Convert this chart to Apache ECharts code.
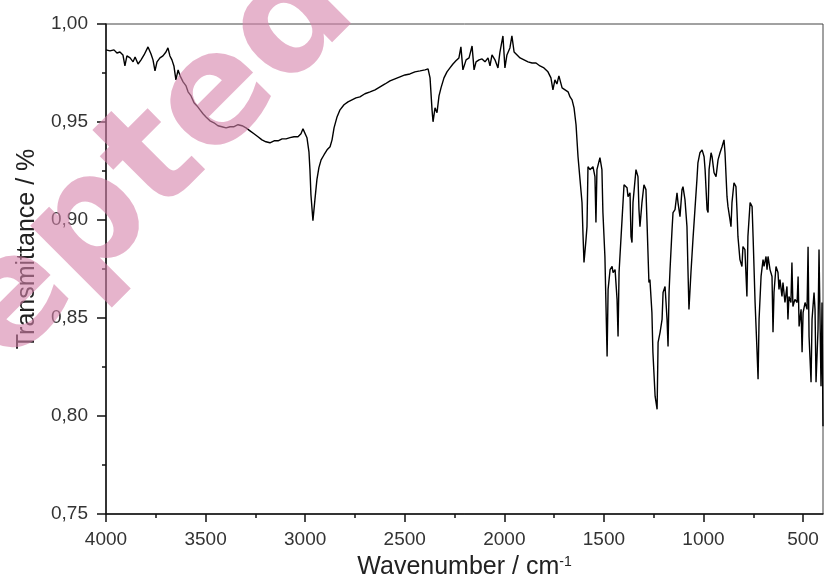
<!DOCTYPE html>
<html>
<head>
<meta charset="utf-8">
<script src="https://cdn.jsdelivr.net/npm/echarts@6/dist/echarts.min.js"></script>
<style>
html,body{margin:0;padding:0;background:#fff;}
#chart{width:824px;height:585px;}
</style>
</head>
<body>
<div id="chart"></div>
<script>
// Wavenumber (cm^-1)
var wavenumber = [4000,3980,3960,3945,3930,3915,3905,3895,3879,3864,3854,3839,3824,3809,3789,3774,3764,3754,3744,3729,3714,3699,3689,3679,3669,3659,3649,3638,3628,3613,3598,3588,3573,3558,3543,3528,3513,3498,3478,3458,3438,3418,3397,3377,3357,3337,3317,3297,3277,3257,3237,3217,3197,3177,3156,3136,3116,3096,3076,3056,3036,3021,3011,3001,2991,2981,2976,2971,2961,2951,2941,2931,2920,2905,2890,2875,2865,2855,2840,2825,2805,2785,2765,2745,2725,2700,2674,2649,2624,2599,2574,2549,2524,2499,2474,2449,2423,2398,2383,2373,2363,2358,2348,2338,2328,2318,2303,2288,2273,2258,2243,2228,2218,2208,2192,2177,2162,2152,2142,2127,2112,2097,2082,2072,2062,2047,2032,2022,2007,1997,1987,1972,1962,1951,1936,1921,1901,1881,1861,1841,1821,1801,1781,1766,1756,1746,1736,1726,1710,1695,1680,1670,1660,1650,1640,1630,1620,1610,1605,1600,1590,1585,1580,1570,1555,1545,1540,1535,1520,1510,1505,1495,1484,1479,1469,1459,1454,1444,1434,1429,1424,1409,1399,1384,1379,1369,1364,1359,1354,1339,1329,1324,1319,1309,1299,1289,1284,1274,1269,1259,1254,1243,1233,1228,1218,1208,1203,1193,1183,1178,1173,1168,1158,1153,1143,1133,1128,1118,1108,1103,1093,1083,1078,1073,1063,1053,1043,1033,1028,1018,1007,997,992,982,977,972,962,957,947,937,927,917,907,897,892,882,877,867,862,857,847,837,832,827,817,807,802,792,782,777,766,756,751,741,731,726,721,711,701,696,686,681,676,666,656,651,646,636,626,621,616,606,601,591,581,576,571,561,556,551,541,530,525,520,510,505,500,490,480,475,470,460,455,445,440,435,425,420,410,405,400];
// Transmittance
var transmittance = [0.9868,0.9863,0.9868,0.9852,0.9857,0.9842,0.9786,0.9837,0.9827,0.9807,0.9832,0.9796,0.9817,0.9842,0.9883,0.9847,0.9817,0.9761,0.9807,0.9827,0.9837,0.9857,0.9878,0.9837,0.9817,0.9786,0.9715,0.9766,0.9735,0.9705,0.9684,0.9654,0.9633,0.9598,0.9582,0.9562,0.9542,0.9526,0.9506,0.9496,0.9481,0.9476,0.9470,0.9476,0.9476,0.9486,0.9481,0.9470,0.9455,0.9440,0.9425,0.9409,0.9399,0.9394,0.9404,0.9404,0.9414,0.9414,0.9420,0.9425,0.9425,0.9440,0.9465,0.9455,0.9420,0.9348,0.9257,0.9129,0.8997,0.9104,0.9206,0.9267,0.9307,0.9333,0.9358,0.9374,0.9409,0.9470,0.9526,0.9562,0.9588,0.9603,0.9613,0.9623,0.9628,0.9644,0.9654,0.9664,0.9679,0.9694,0.9710,0.9720,0.9730,0.9740,0.9745,0.9756,0.9761,0.9766,0.9771,0.9725,0.9562,0.9501,0.9572,0.9547,0.9633,0.9674,0.9725,0.9756,0.9776,0.9796,0.9812,0.9827,0.9883,0.9766,0.9817,0.9827,0.9888,0.9766,0.9807,0.9817,0.9822,0.9807,0.9827,0.9786,0.9842,0.9817,0.9776,0.9857,0.9939,0.9776,0.9842,0.9878,0.9939,0.9857,0.9842,0.9827,0.9817,0.9807,0.9801,0.9801,0.9786,0.9776,0.9756,0.9725,0.9664,0.9715,0.9694,0.9735,0.9674,0.9664,0.9654,0.9628,0.9613,0.9572,0.9486,0.9323,0.9206,0.9089,0.8926,0.8783,0.8900,0.8966,0.9272,0.9257,0.9272,0.9221,0.8987,0.9257,0.9318,0.9257,0.9038,0.8814,0.8304,0.8646,0.8747,0.8763,0.8732,0.8747,0.8595,0.8406,0.8732,0.9002,0.9180,0.9165,0.9119,0.9139,0.8915,0.8885,0.9089,0.9257,0.9221,0.9053,0.8966,0.9089,0.9180,0.9155,0.9002,0.8681,0.8696,0.8528,0.8325,0.8101,0.8034,0.8376,0.8427,0.8493,0.8630,0.8661,0.8493,0.8355,0.8630,0.8747,0.8951,0.9038,0.9053,0.9139,0.9089,0.9017,0.9155,0.9170,0.9104,0.8966,0.8747,0.8544,0.8732,0.8900,0.9053,0.9206,0.9292,0.9343,0.9358,0.9323,0.9257,0.9053,0.9038,0.9257,0.9343,0.9323,0.9241,0.9221,0.9307,0.9343,0.9374,0.9409,0.9343,0.9119,0.9068,0.9002,0.8966,0.9089,0.9190,0.9170,0.9053,0.8915,0.8798,0.8763,0.8864,0.8849,0.8610,0.8915,0.9089,0.9068,0.8915,0.8579,0.8325,0.8187,0.8493,0.8712,0.8798,0.8763,0.8814,0.8747,0.8814,0.8747,0.8712,0.8427,0.8630,0.8763,0.8732,0.8646,0.8696,0.8610,0.8681,0.8579,0.8661,0.8493,0.8610,0.8579,0.8783,0.8559,0.8595,0.8579,0.8712,0.8457,0.8544,0.8325,0.8528,0.8579,0.8544,0.8864,0.8406,0.8172,0.8493,0.8630,0.8544,0.8172,0.8442,0.8849,0.8152,0.8579,0.7948];
// Tick positions
var xMajorTicks = [4000,3500,3000,2500,2000,1500,1000,500];
var xMinorTicks = [3750,3250,2750,2250,1750,1250,750];
var watermarkText = 'Accepted';

var seriesData = wavenumber.map(function (w, i) { return [w, transmittance[i]]; });

var chart = echarts.init(document.getElementById('chart'), null, {renderer: 'canvas'});
var labelFont = 'Liberation Sans, Arial, sans-serif';
var option = {
  animation: false,
  backgroundColor: '#ffffff',
  grid: {left: 106, right: 1, top: 24, bottom: 70, show: true, borderColor: '#444', borderWidth: 1, backgroundColor: 'transparent'},
  xAxis: [{
    type: 'value', inverse: true, min: 400, max: 4000,
    name: 'Wavenumber / cm{sup|-1}', nameLocation: 'middle', nameGap: 41,
    nameTextStyle: {fontFamily: labelFont, fontSize: 25, color: '#222',
      rich: {sup: {fontFamily: labelFont, fontSize: 14, color: '#222', verticalAlign: 'top'}}},
    axisLine: {show: true, onZero: false, lineStyle: {color: '#111', width: 1.5}},
    axisTick: {show: true, inside: false, length: 8, customValues: xMajorTicks, lineStyle: {color: '#111', width: 1.5}},
    axisLabel: {show: true, margin: 16, customValues: xMajorTicks, fontFamily: labelFont, fontSize: 19, color: '#333',
      formatter: function (v) { return String(v); }},
    splitLine: {show: false}
  }, {
    type: 'value', inverse: true, min: 400, max: 4000, position: 'bottom',
    axisLine: {show: false},
    axisTick: {show: true, inside: false, length: 4, customValues: xMinorTicks, lineStyle: {color: '#111', width: 1.5}},
    axisLabel: {show: false},
    splitLine: {show: false}
  }],
  yAxis: {
    type: 'value', min: 0.75, max: 1.0, interval: 0.05,
    name: 'Transmittance / %', nameLocation: 'middle', nameGap: 66,
    nameTextStyle: {fontFamily: labelFont, fontSize: 25, color: '#222', padding: [0, 0, 0, 40]},
    axisLine: {show: true, onZero: false, lineStyle: {color: '#111', width: 1.5}},
    axisTick: {show: true, inside: false, length: 9, lineStyle: {color: '#111', width: 1.5}},
    minorTick: {show: true, splitNumber: 2, length: 4, lineStyle: {color: '#111', width: 1.5}},
    axisLabel: {margin: 18, fontFamily: labelFont, fontSize: 19, color: '#333',
      formatter: function (v) { return v.toFixed(2).replace('.', ','); }},
    splitLine: {show: false},
    minorSplitLine: {show: false}
  },
  series: [{
    type: 'line', xAxisIndex: 0, yAxisIndex: 0,
    data: seriesData, showSymbol: false, symbol: 'none',
    lineStyle: {color: '#000', width: 1.4}, silent: true
  }],
  graphic: [{
    type: 'text', x: 332, y: -14, rotation: Math.PI / 4, z: 100, silent: true,
    style: {text: watermarkText, font: 'bold 153px "DejaVu Sans"', fill: 'rgba(214,130,170,0.6)', align: 'right', verticalAlign: 'middle'}
  }]
};
chart.setOption(option);
</script>
</body>
</html>
